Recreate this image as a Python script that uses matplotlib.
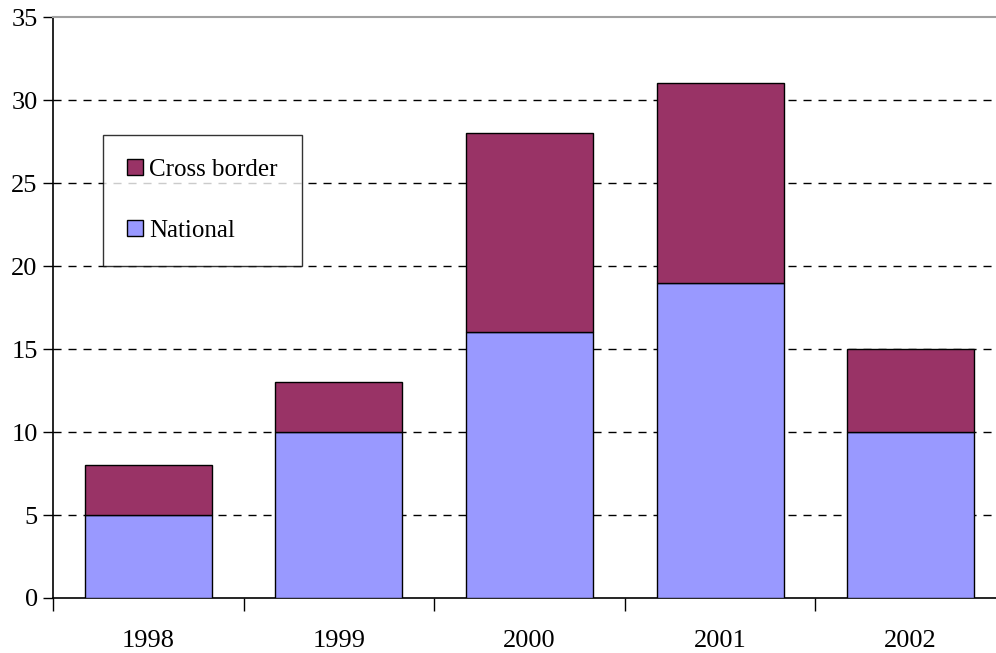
"""Stacked bars: national vs cross border, 1998-2002."""
import matplotlib.pyplot as plt
import numpy as np

years = ["1998", "1999", "2000", "2001", "2002"]
national = [5, 10, 16, 19, 10]
cross_border = [3, 3, 12, 12, 5]

plt.rcParams["font.family"] = ["Liberation Serif", "DejaVu Serif"]

fig = plt.figure(figsize=(9.96, 6.53), dpi=100)
# plot area runs a bit past the right edge of the image, like the original
ax = fig.add_axes([53 / 996, 1 - 598 / 653, 953 / 996, 581 / 653])

x = np.arange(len(years))
w = 0.667
ax.bar(x, national, w, color="#9999FF", edgecolor="black", linewidth=1.0,
       label="National", zorder=3)
ax.bar(x, cross_border, w, bottom=national, color="#993366", edgecolor="black",
       linewidth=1.0, label="Cross border", zorder=3)

ax.set_xlim(-0.5, len(years) - 0.5)
ax.set_ylim(0, 35)
ax.set_yticks(range(0, 36, 5))
ax.set_xticks(x)
ax.set_xticklabels(years)
ax.set_xticks(np.arange(-0.5, len(years)), minor=True)
ax.tick_params(axis="x", which="major", length=0, pad=23, labelsize=19)
ax.tick_params(axis="x", which="minor", length=9, width=1, direction="out")
ax.tick_params(axis="y", length=7, width=1, direction="out", pad=4, labelsize=19)

for v in range(5, 35, 5):
    ax.axhline(v, color="black", linestyle=(0, (5.8, 5)), linewidth=1.0, zorder=1)

ax.spines["right"].set_visible(False)
ax.spines["top"].set_color("#a0a0a0")
ax.spines["top"].set_linewidth(1.5)
ax.spines["left"].set_linewidth(1.2)
ax.spines["bottom"].set_linewidth(1.2)

h, l = ax.get_legend_handles_labels()
leg = ax.legend(h[::-1], l[::-1], loc="upper left",
                bbox_to_anchor=(50 / 953, (598 - 135) / 581),
                fontsize=18, frameon=True, fancybox=False, edgecolor="black",
                handlelength=0.65, handleheight=0.65, handletextpad=0.25,
                labelspacing=1.55, borderpad=0.95, borderaxespad=0)
leg.get_frame().set_linewidth(1.0)
leg.set_zorder(5)

fig.savefig("out.png", dpi=100)
